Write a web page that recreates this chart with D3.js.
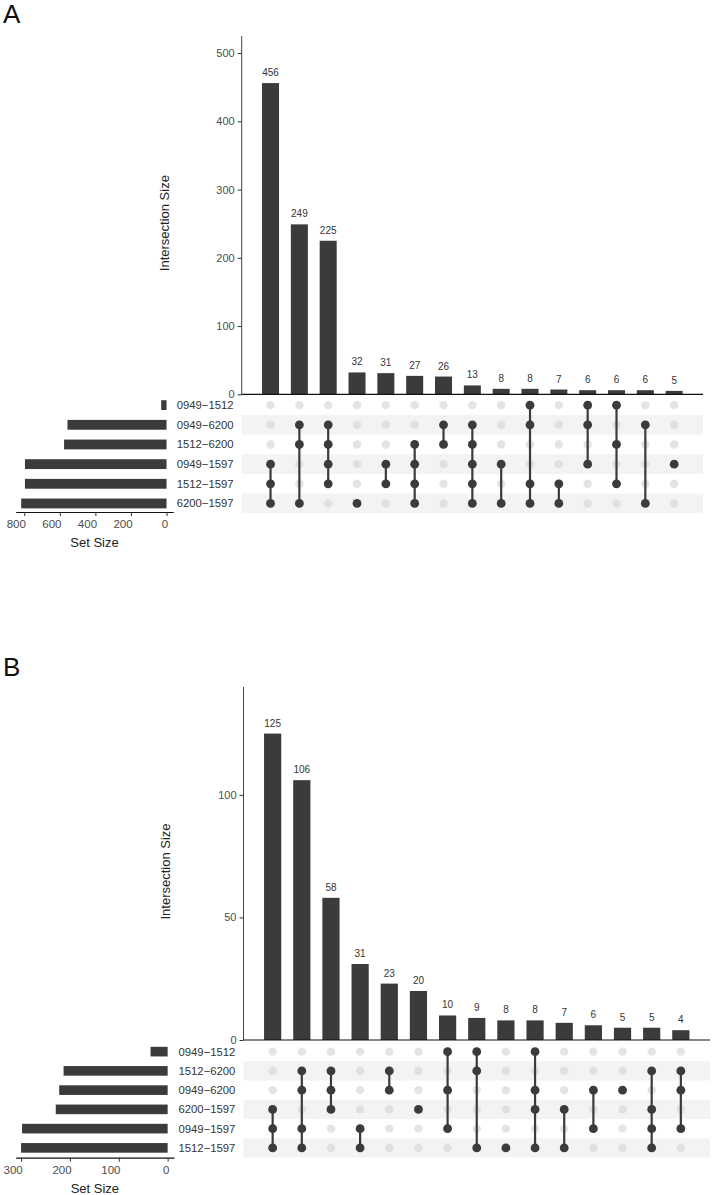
<!DOCTYPE html>
<html>
<head>
<meta charset="utf-8">
<script src="https://cdn.jsdelivr.net/npm/d3@7"></script>
<style>
  body { margin: 0; background: #fff; }
  svg { display: block; font-family: "Liberation Sans", Arial, sans-serif; }
</style>
</head>
<body>
<div id="chart"></div>
<script>
// Panel A data
var setsA = ["0949−1512", "0949−6200", "1512−6200", "0949−1597", "1512−1597", "6200−1597"];
var setSizesA = [30, 557, 576, 796, 796, 817];
var countsA = [456, 249, 225, 32, 31, 27, 26, 13, 8, 8, 7, 6, 6, 6, 5];
// set indices (rows above) taking part in each intersection
var membersA = [[3, 4, 5], [1, 2, 5], [1, 2, 3, 4], [5], [3, 4], [2, 3, 4, 5], [1, 2], [1, 2, 3, 4, 5],
    [3, 5], [0, 1, 4, 5], [4, 5], [0, 1, 3], [0, 2, 4], [1, 5], [3]];
var barTicksA = [0, 100, 200, 300, 400, 500];
var sizeTicksA = [800, 600, 400, 200, 0];

// Panel B data
var setsB = ["0949−1512", "1512−6200", "0949−6200", "6200−1597", "0949−1597", "1512−1597"];
var setSizesB = [35, 213, 222, 229, 298, 300];
var countsB = [125, 106, 58, 31, 23, 20, 10, 9, 8, 8, 7, 6, 5, 5, 4];
var membersB = [[3, 4, 5], [1, 2, 4, 5], [1, 2, 3], [4, 5], [1, 2], [3], [0, 2, 4], [0, 1, 5],
    [5], [0, 2, 3, 5], [3, 5], [2, 4], [2], [1, 3, 4, 5], [1, 2, 4]];
var barTicksB = [0, 50, 100];
var sizeTicksB = [300, 200, 100, 0];

var W = 714, H = 1195;
var dark = "#3b3b3b";

var svg = d3.select("#chart").append("svg")
    .attr("width", W)
    .attr("height", H);

function drawUpset(p) {
    var g = svg.append("g");
    var n = p.counts.length;

    // column positions: intersections at 1..n on a [0, n+1] scale
    var x = d3.scaleLinear().domain([0, n + 1]).range([p.axisX, p.right]);
    var y = d3.scaleLinear().domain([0, p.yMax]).range([p.base, p.top]);
    var rows = d3.scaleBand().domain(d3.range(p.sets.length)).range([p.matTop, p.matBottom]);
    var sx = d3.scaleLinear().domain(p.sizeDomain).range([p.sizeRight, p.sizeLeft]);
    var bw = (x(1) - x(0)) * 0.59;

    // panel letter
    g.append("text")
        .attr("x", 3)
        .attr("y", p.letterY)
        .attr("font-size", 26)
        .attr("fill", "#111")
        .text(p.letter);

    // stripes behind every second row
    g.selectAll(".stripe")
        .data(d3.range(p.sets.length).filter(function (i) { return i % 2 === 1; }))
        .enter().append("rect")
        .attr("x", p.axisX)
        .attr("width", p.right - p.axisX)
        .attr("y", function (i) { return rows(i); })
        .attr("height", rows.bandwidth())
        .attr("fill", "#f3f3f3");

    // intersection bars
    g.selectAll(".bar")
        .data(p.counts)
        .enter().append("rect")
        .attr("x", function (d, i) { return x(i + 1) - bw / 2; })
        .attr("width", bw)
        .attr("y", function (d) { return y(d); })
        .attr("height", function (d) { return y(0) - y(d); })
        .attr("fill", dark);

    g.selectAll(".count")
        .data(p.counts)
        .enter().append("text")
        .attr("x", function (d, i) { return x(i + 1); })
        .attr("y", function (d) { return y(d) - 7; })
        .attr("text-anchor", "middle")
        .attr("font-size", 10)
        .attr("fill", "#333")
        .text(function (d) { return d; });

    // y axis
    var ya = g.append("g")
        .attr("transform", "translate(" + p.axisX + ",0)")
        .call(d3.axisLeft(y).tickValues(p.barTicks).tickSize(4).tickSizeOuter(0).tickPadding(3));
    ya.select(".domain").attr("stroke", "#444").attr("d", "M0," + p.top + "V" + p.base);
    ya.selectAll(".tick line").attr("stroke", "#333");
    ya.selectAll(".tick text").attr("font-size", 11).attr("fill", "#4d4d4d")
        .attr("font-family", "Liberation Sans, Arial, sans-serif");

    g.append("text")
        .attr("transform", "translate(" + p.titleX + "," + ((p.top + p.base) / 2 + 8) + ") rotate(-90)")
        .attr("text-anchor", "middle")
        .attr("dominant-baseline", "central")
        .attr("font-size", 13)
        .attr("fill", "#222")
        .text("Intersection Size");

    // x baseline of the bar chart
    g.append("line")
        .attr("x1", p.axisX).attr("x2", p.right)
        .attr("y1", p.base).attr("y2", p.base)
        .attr("stroke", "#111")
        .attr("stroke-width", 1.2);

    // matrix dots
    var cols = g.selectAll(".col")
        .data(p.members)
        .enter().append("g")
        .attr("transform", function (d, i) { return "translate(" + x(i + 1) + ",0)"; });

    cols.selectAll(".empty")
        .data(d3.range(p.sets.length))
        .enter().append("circle")
        .attr("cy", function (r) { return rows(r) + rows.bandwidth() / 2; })
        .attr("r", 4.2)
        .attr("fill", "#d6d6d6")
        .attr("fill-opacity", 0.65);

    cols.filter(function (d) { return d.length > 1; })
        .append("line")
        .attr("y1", function (d) { return rows(d3.min(d)) + rows.bandwidth() / 2; })
        .attr("y2", function (d) { return rows(d3.max(d)) + rows.bandwidth() / 2; })
        .attr("stroke", dark)
        .attr("stroke-width", 2.2);

    cols.selectAll(".full")
        .data(function (d) { return d; })
        .enter().append("circle")
        .attr("cy", function (r) { return rows(r) + rows.bandwidth() / 2; })
        .attr("r", 4.4)
        .attr("fill", dark);

    // set names
    g.selectAll(".setname")
        .data(p.sets)
        .enter().append("text")
        .attr("x", p.axisX - 65)
        .attr("y", function (d, i) { return rows(i) + rows.bandwidth() / 2; })
        .attr("dominant-baseline", "central")
        .attr("font-size", 11.3)
        .attr("fill", "#333")
        .text(function (d) { return d; });

    // set size bars
    g.selectAll(".setbar")
        .data(p.setSizes)
        .enter().append("rect")
        .attr("x", function (d) { return sx(d); })
        .attr("width", function (d) { return sx(0) - sx(d); })
        .attr("y", function (d, i) { return rows(i) + rows.bandwidth() * 0.25; })
        .attr("height", rows.bandwidth() * 0.5)
        .attr("fill", dark);

    var sa = g.append("g")
        .attr("transform", "translate(0," + p.sizeAxisY + ")")
        .call(d3.axisBottom(sx).tickValues(p.sizeTicks).tickSize(4).tickSizeOuter(0).tickPadding(4));
    sa.select(".domain").attr("stroke", "#111").attr("stroke-width", 1.2);
    sa.selectAll(".tick line").attr("stroke", "#333");
    sa.selectAll(".tick text")
        .attr("text-anchor", "end")
        .attr("dx", "0.1em")
        .attr("font-size", 11.5)
        .attr("fill", "#4d4d4d")
        .attr("font-family", "Liberation Sans, Arial, sans-serif");

    g.append("text")
        .attr("x", (p.sizeLeft + p.sizeRight) / 2)
        .attr("y", p.sizeAxisY + 35)
        .attr("text-anchor", "middle")
        .attr("font-size", 13)
        .attr("fill", "#222")
        .text("Set Size");
}

drawUpset({
    letter: "A", letterY: 23,
    sets: setsA, setSizes: setSizesA, counts: countsA, members: membersA,
    barTicks: barTicksA, sizeTicks: sizeTicksA,
    yMax: 525, sizeDomain: [-38, 848],
    top: 36, base: 394.3, axisX: 241.7, right: 703,
    matTop: 395.3, matBottom: 513.3, sizeAxisY: 512,
    sizeLeft: 15.7, sizeRight: 173.3, titleX: 164
});

drawUpset({
    letter: "B", letterY: 676,
    sets: setsB, setSizes: setSizesB, counts: countsB, members: membersB,
    barTicks: barTicksB, sizeTicks: sizeTicksB,
    yMax: 144, sizeDomain: [-13, 311],
    top: 687, base: 1040, axisX: 243.5, right: 710,
    matTop: 1042, matBottom: 1157.5, sizeAxisY: 1157.7,
    sizeLeft: 15.7, sizeRight: 174, titleX: 165
});
</script>
</body>
</html>
